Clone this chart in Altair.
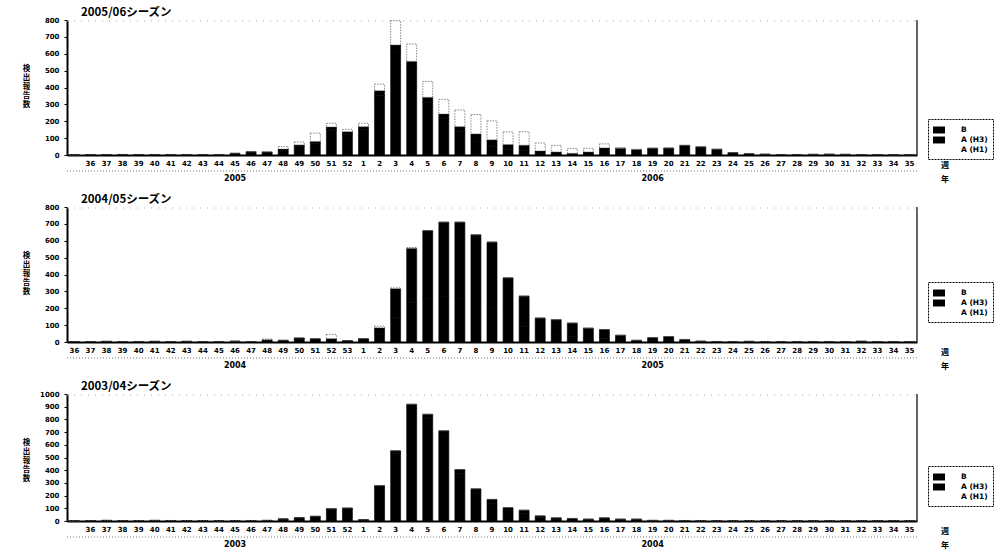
import altair as alt
import pandas as pd

SERIES = ["B", "A (H3)", "A (H1)"]
FILLS = ["#000000", "#000000", "#ffffff"]
STROKES = ["#000000", "#000000", "#555555"]
DASHES = [[1, 0], [1, 0], [1.5, 1.2]]

# ---------------- 2005/06 season (slot 0 blank, weeks 36-52 of 2005, 1-35 of 2006)
labels_0506 = [""] + [str(w) for w in range(36, 53)] + [str(w) for w in range(1, 36)]
b_0506 = [0, 0, 1, 0, 1, 1, 0, 1, 1, 0, 2, 3, 3, 5, 8, 10, 20, 15,
          18, 30, 45, 40, 30, 28, 30, 45, 40, 30, 30, 15, 14, 8, 15, 38, 36, 30, 38, 39,
          54, 46, 32, 13, 7, 4, 3, 2, 3, 4, 3, 2, 1, 1, 1]
h3_0506 = [0, 2, 2, 3, 2, 2, 2, 1, 2, 2, 8, 17, 15, 30, 52, 70, 146, 123,
           150, 351, 607, 515, 312, 215, 138, 80, 50, 32, 28, 9, 4, 2, 3, 4, 4, 2, 2, 2,
           3, 2, 2, 1, 1, 1, 0, 1, 1, 1, 1, 0, 1, 0, 0]
h1_0506 = [0, 0, 0, 0, 0, 0, 0, 0, 0, 0, 0, 1, 1, 15, 17, 50, 22, 14,
           20, 39, 144, 103, 94, 87, 99, 115, 112, 75, 80, 47, 39, 28, 22, 24, 3, 2, 0, 0,
           0, 0, 0, 0, 0, 0, 0, 0, 0, 0, 0, 0, 0, 0, 0]
years_0506 = [(10, "2005"), (36, "2006")]

# ---------------- 2004/05 season (weeks 36-53 of 2004, 1-35 of 2005)
labels_0405 = [str(w) for w in range(36, 54)] + [str(w) for w in range(1, 36)]
b_0405 = [1, 1, 1, 1, 0, 1, 1, 1, 1, 0, 2, 1, 4, 3, 8, 7, 8, 3,
          8, 40, 170, 320, 400, 440, 450, 410, 390, 250, 180, 95, 90, 78, 58, 52, 28, 7, 18, 23,
          10, 3, 2, 2, 3, 1, 1, 1, 2, 1, 1, 3, 1, 1, 1]
h3_0405 = [2, 2, 3, 2, 2, 3, 2, 3, 2, 2, 3, 2, 10, 7, 16, 13, 12, 5,
           12, 44, 146, 235, 260, 270, 260, 225, 202, 130, 92, 47, 42, 34, 24, 22, 12, 3, 8, 9,
           5, 2, 1, 1, 1, 1, 1, 1, 1, 1, 1, 2, 1, 1, 1]
h1_0405 = [0, 0, 0, 0, 0, 0, 0, 0, 0, 0, 0, 0, 4, 0, 0, 0, 25, 0,
           0, 10, 5, 5, 0, 0, 0, 0, 0, 0, 0, 0, 0, 0, 0, 0, 0, 0, 0, 0,
           0, 0, 0, 0, 0, 0, 0, 0, 0, 0, 0, 0, 0, 0, 0]
years_0405 = [(10, "2004"), (36, "2005")]

# ---------------- 2003/04 season (slot 0 blank, weeks 36-52 of 2003, 1-35 of 2004)
labels_0304 = [""] + [str(w) for w in range(36, 53)] + [str(w) for w in range(1, 36)]
b_0304 = [0, 0, 1, 0, 0, 1, 1, 0, 0, 0, 0, 1, 1, 1, 2, 2, 5, 5,
          1, 10, 20, 30, 35, 40, 30, 30, 30, 25, 25, 15, 12, 12, 10, 18, 10, 12, 4, 4,
          3, 2, 2, 2, 2, 1, 1, 2, 2, 2, 2, 3, 2, 3, 2]
h3_0304 = [0, 3, 4, 3, 3, 4, 3, 3, 3, 2, 3, 3, 4, 15, 24, 35, 92, 97,
           9, 269, 533, 889, 805, 670, 375, 223, 140, 80, 60, 25, 13, 8, 5, 7, 5, 3, 1, 1,
           1, 0, 0, 0, 0, 0, 0, 0, 0, 0, 0, 0, 0, 0, 0]
h1_0304 = [0] * 53
years_0304 = [(10, "2003"), (36, "2004")]

W = 850
FONT = "DejaVu Sans"
JFONT = "Noto Sans CJK JP"


def panel(title, labels, b, h3, h1, ymax, H, years, legend_y):
    rows = []
    for i in range(len(labels)):
        rows.append({"idx": i, "series": "A (H3)", "value": h3[i], "ord": 0})
        rows.append({"idx": i, "series": "B", "value": b[i], "ord": 1})
        rows.append({"idx": i, "series": "A (H1)", "value": h1[i], "ord": 2})
    df = pd.DataFrame(rows)
    lab_expr = "[" + ",".join("'%s'" % l for l in labels) + "][datum.value]"
    x = alt.X("idx:O",
              scale=alt.Scale(paddingInner=0.38, paddingOuter=0.15),
              axis=alt.Axis(title=None, labelExpr=lab_expr, labelAngle=0, ticks=False,
                            domainWidth=2, domainColor="black", labelFontSize=7,
                            labelFontWeight="bold", labelPadding=4, labelColor="black",
                            labelFont=FONT))
    bars = alt.Chart(df).mark_bar(strokeWidth=0.7).encode(
        x=x,
        y=alt.Y("value:Q", stack="zero",
                scale=alt.Scale(domain=[0, ymax], nice=False),
                axis=alt.Axis(values=list(range(0, ymax + 1, 100)), format="d",
                              title=list("検出報告数"),
                              titleAngle=0, titleFont=JFONT, titleFontSize=7.5,
                              titleLineHeight=9, titleFontWeight="bold",
                              titleX=-41, titleY=44, titleAlign="center",
                              titleBaseline="top", grid=False, domainWidth=2,
                              domainColor="black", tickSize=3, tickColor="black",
                              labelFontSize=7, labelFontWeight="bold", labelFont=FONT,
                              labelColor="black", labelPadding=5)),
        color=alt.Color("series:N", scale=alt.Scale(domain=SERIES, range=FILLS),
                        legend=alt.Legend(title=None, orient="none", legendX=W + 11,
                                          legendY=legend_y, strokeColor="black",
                                          padding=5,
                                          symbolType="M-1,-0.58H1V0.58H-1Z",
                                          symbolSize=144, symbolStrokeWidth=0,
                                          labelFontSize=7.5, labelFontWeight="bold",
                                          labelFont=FONT, rowPadding=0, labelOffset=16)),
        stroke=alt.Stroke("series:N", scale=alt.Scale(domain=SERIES, range=STROKES),
                          legend=None),
        strokeDash=alt.StrokeDash("series:N", scale=alt.Scale(domain=SERIES, range=DASHES),
                                  legend=None),
        order=alt.Order("ord:Q"),
    )
    one = pd.DataFrame({"t": [title]})
    ttl = alt.Chart(one).mark_text(align="left", baseline="alphabetic", fontSize=11.5,
                                   fontWeight="bold", font=JFONT, color="black").encode(
        text="t:N", x=alt.value(14), y=alt.value(-4))
    ydf = pd.DataFrame({"idx": [p for p, _ in years], "t": [t for _, t in years]})
    yr = alt.Chart(ydf).mark_text(baseline="middle", fontSize=8, fontWeight="bold",
                                  font=FONT, color="black").encode(
        x=x, text="t:N", y=alt.value(H + 24))
    dots = alt.Chart(one).mark_rule(color="#777", strokeDash=[1, 2], strokeWidth=1).encode(
        x=alt.value(0), x2=alt.value(W), y=alt.value(H + 16))
    topdots = alt.Chart(one).mark_rule(color="#aaa", strokeDash=[1, 6], strokeWidth=1).encode(
        x=alt.value(0), x2=alt.value(W), y=alt.value(1))
    right = alt.Chart(one).mark_rule(color="black", strokeWidth=1.2).encode(
        x=alt.value(W), y=alt.value(0), y2=alt.value(H))
    wk = alt.Chart(pd.DataFrame({"t": ["週"]})).mark_text(
        fontSize=8, fontWeight="bold", font=JFONT, color="black").encode(
        text="t:N", x=alt.value(W + 28), y=alt.value(H + 11))
    yrl = alt.Chart(pd.DataFrame({"t": ["年"]})).mark_text(
        fontSize=8, fontWeight="bold", font=JFONT, color="black").encode(
        text="t:N", x=alt.value(W + 28), y=alt.value(H + 25))
    return alt.layer(bars, ttl, yr, dots, topdots, right, wk, yrl).properties(
        width=W, height=H)


p1 = panel("2005/06シーズン", labels_0506, b_0506, h3_0506, h1_0506, 800, 135, years_0506, 99)
p2 = panel("2004/05シーズン", labels_0405, b_0405, h3_0405, h1_0405, 800, 135, years_0405, 75)
p3 = panel("2003/04シーズン", labels_0304, b_0304, h3_0304, h1_0304, 1000, 127, years_0304, 72)

chart = alt.vconcat(p1, p2, p3, spacing=52, bounds="flush").resolve_scale(
    color="independent", stroke="independent", strokeDash="independent").resolve_legend(
    color="independent").properties(
    padding={"left": 22, "top": 7, "right": 0, "bottom": 0},
    background="white").configure_view(stroke=None).configure_legend(
    strokeDash=[2, 1])

chart.save("out.html", embed_options={"renderer": "svg", "actions": False})
